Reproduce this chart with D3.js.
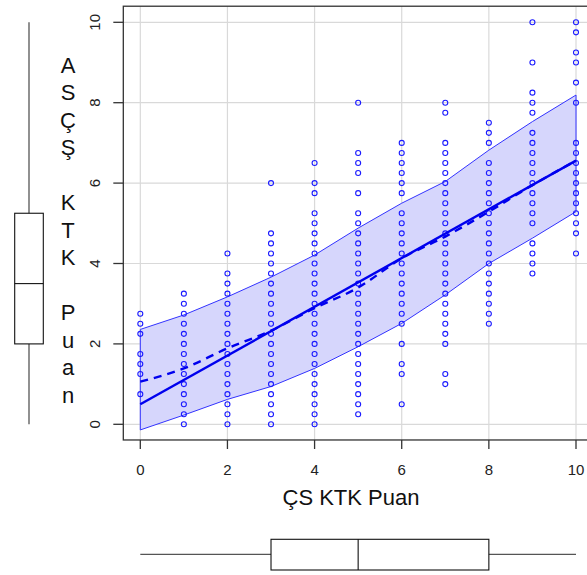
<!DOCTYPE html>
<html><head><meta charset="utf-8">
<script src="https://cdn.jsdelivr.net/npm/d3@7"></script>
<style>body{margin:0;background:#fff}svg{display:block}text{font-family:"Liberation Sans",Arial,sans-serif}</style>
</head><body>
<svg id="c" width="587" height="575"></svg>
<script>
const xTicks = [0, 2, 4, 6, 8, 10];
const yTicks = [0, 2, 4, 6, 8, 10];
const xTitle = "ÇS KTK Puan";
const yTitle = "ASÇŞ KTK Puan";
const colX = [0, 1, 2, 3, 4, 5, 6, 7, 8, 9, 10];
const colY = [
  [2.75, 2.5, 2.25, 1.75, 1.5, 1.25, 0.75],
  [3.25, 3, 2.75, 2.5, 2.25, 2, 1.75, 1.5, 1.25, 1, 0.75, 0.5, 0.25, 0],
  [4.25, 3.75, 3.5, 3.25, 3, 2.75, 2.5, 2.25, 2, 1.75, 1.5, 1.25, 1, 0.75, 0.5, 0.25, 0],
  [6, 4.75, 4.5, 4.25, 4, 3.75, 3.5, 3.25, 3, 2.75, 2.5, 2.25, 2, 1.75, 1.5, 1.25, 1, 0.75, 0.5, 0.25, 0],
  [6.5, 6, 5.75, 5.25, 5, 4.75, 4.5, 4.25, 4, 3.75, 3.5, 3.25, 3, 2.75, 2.5, 2.25, 2, 1.75, 1.5, 1.25, 1, 0.75, 0.5, 0.25, 0],
  [8, 6.75, 6.5, 6.25, 5.75, 5.25, 5, 4.75, 4.5, 4.25, 4, 3.75, 3.5, 3.25, 3, 2.75, 2.5, 2.25, 2, 1.75, 1.5, 1.25, 1, 0.75, 0.5, 0.25],
  [7, 6.75, 6.5, 6.25, 6, 5.75, 5.25, 5, 4.75, 4.5, 4.25, 4, 3.75, 3.5, 3.25, 3, 2.75, 2.5, 2, 1.5, 1.25, 0.5],
  [8, 7.75, 7, 6.75, 6.5, 6.25, 6, 5.75, 5.5, 5.25, 5, 4.75, 4.5, 4.25, 4, 3.75, 3.5, 3.25, 3, 2.75, 2.5, 2.25, 2, 1.25, 1],
  [7.5, 7.25, 7, 6.5, 6.25, 6, 5.75, 5.5, 5.25, 5, 4.75, 4.5, 4.25, 4, 3.75, 3.5, 3.25, 3, 2.75, 2.5],
  [10, 9, 8.25, 8, 7.75, 7.25, 7, 6.75, 6.5, 6.25, 6, 5.75, 5.5, 5.25, 5, 4.5, 4.25, 4, 3.75],
  [10, 9.75, 9.25, 9, 8.5, 8, 7, 6.75, 6.5, 6.25, 6, 5.75, 5.5, 5.25, 5, 4.75, 4.25]
];
const bandUpper = [2.36, 2.72, 3.17, 3.66, 4.21, 4.88, 5.5, 6.04, 6.82, 7.53, 8.19];
const bandLower = [-0.14, 0.23, 0.62, 0.94, 1.39, 1.93, 2.51, 3.22, 4.0, 4.63, 5.29];
const fitX = [0, 10];
const fitY = [0.5, 6.56];
const smoothY = [1.06, 1.39, 1.89, 2.33, 2.89, 3.4, 4.13, 4.67, 5.29, 5.95, 6.56];
const yBox = [0, 2, 3.5, 5.25, 10];   // min, q1, median, q3, max
const xBox = [0, 3, 5, 8, 10];

const svg = d3.select("#c");
const x = d3.scaleLinear().domain([0, 10]).range([140.3, 576]);
const y = d3.scaleLinear().domain([0, 10]).range([424.3, 22.3]);
const L = x(-0.39), R = x(10.39), T = y(10.4), B = y(-0.39);

// grid
svg.append("g").selectAll("line").data(xTicks).join("line")
  .attr("x1", d => x(d)).attr("x2", d => x(d)).attr("y1", T).attr("y2", B)
  .attr("stroke", "#d9d9d9").attr("stroke-width", 1.2);
svg.append("g").selectAll("line").data(yTicks).join("line")
  .attr("y1", d => y(d)).attr("y2", d => y(d)).attr("x1", L).attr("x2", R)
  .attr("stroke", "#d9d9d9").attr("stroke-width", 1.2);

// band
const bandPts = colX.map((c, i) => [x(c), y(bandUpper[i])])
  .concat(colX.map((c, i) => [x(c), y(bandLower[i])]).reverse());
svg.append("path").attr("d", "M" + bandPts.join("L") + "Z")
  .attr("fill", "#d6d6fc").attr("stroke", "#3333ff").attr("stroke-width", 1);

// points
const pts = [];
colX.forEach((c, i) => colY[i].forEach(v => pts.push([c, v])));
svg.append("g").selectAll("circle").data(pts).join("circle")
  .attr("cx", d => x(d[0])).attr("cy", d => y(d[1])).attr("r", 2.5)
  .attr("fill", "none").attr("stroke", "#1a1aff").attr("stroke-width", 1.1);

// fit line
svg.append("path").datum(fitX.map((c, i) => [c, fitY[i]]))
  .attr("d", d3.line().x(d => x(d[0])).y(d => y(d[1])))
  .attr("fill", "none").attr("stroke", "#0000ee").attr("stroke-width", 2.4);
// smooth dashed
svg.append("path").datum(colX.map((c, i) => [c, smoothY[i]]))
  .attr("d", d3.line().curve(d3.curveMonotoneX).x(d => x(d[0])).y(d => y(d[1])))
  .attr("fill", "none").attr("stroke", "#0000ee").attr("stroke-width", 2.4)
  .attr("stroke-dasharray", "8,6");

// frame
svg.append("rect").attr("x", L).attr("y", T).attr("width", R - L).attr("height", B - T)
  .attr("fill", "none").attr("stroke", "#333").attr("stroke-width", 1.3);

// x axis
const gx = svg.append("g");
gx.selectAll("line").data(xTicks).join("line")
  .attr("x1", d => x(d)).attr("x2", d => x(d)).attr("y1", B).attr("y2", B + 9)
  .attr("stroke", "#333").attr("stroke-width", 1.3);
gx.selectAll("text").data(xTicks).join("text")
  .attr("x", d => x(d)).attr("y", 475).attr("text-anchor", "middle")
  .attr("font-size", 15).attr("fill", "#222").text(d => d);
svg.append("text").attr("x", 351).attr("y", 505).attr("text-anchor", "middle")
  .attr("font-size", 22).attr("fill", "#111").text(xTitle);

// y axis
const gy = svg.append("g");
gy.selectAll("line").data(yTicks).join("line")
  .attr("y1", d => y(d)).attr("y2", d => y(d)).attr("x1", L - 10).attr("x2", L)
  .attr("stroke", "#333").attr("stroke-width", 1.3);
gy.selectAll("text").data(yTicks).join("text")
  .attr("transform", d => `translate(100,${y(d)}) rotate(-90)`)
  .attr("text-anchor", "middle").attr("font-size", 15).attr("fill", "#222").text(d => d);
const letters = Array.from(yTitle);
svg.append("g").selectAll("text").data(letters).join("text")
  .attr("x", 68).attr("y", (d, i) => 65 + i * 27.5).attr("dy", "0.36em")
  .attr("text-anchor", "middle").attr("font-size", 22).attr("fill", "#111").text(d => d);

// left boxplot (y)
const bl = svg.append("g");
bl.append("line").attr("x1", 29).attr("x2", 29).attr("y1", y(yBox[4])).attr("y2", y(yBox[3])).attr("stroke", "#555").attr("stroke-width", 1.3);
bl.append("line").attr("x1", 29).attr("x2", 29).attr("y1", y(yBox[1])).attr("y2", y(yBox[0])).attr("stroke", "#555").attr("stroke-width", 1.3);
bl.append("rect").attr("x", 14.7).attr("width", 28.6).attr("y", y(yBox[3])).attr("height", y(yBox[1]) - y(yBox[3]))
  .attr("fill", "none").attr("stroke", "#111").attr("stroke-width", 1.1);
bl.append("line").attr("x1", 14.7).attr("x2", 43.3).attr("y1", y(yBox[2])).attr("y2", y(yBox[2])).attr("stroke", "#111").attr("stroke-width", 1.1);

// bottom boxplot (x)
const bb = svg.append("g");
const bm = 554.3;
bb.append("line").attr("y1", bm).attr("y2", bm).attr("x1", x(xBox[0])).attr("x2", x(xBox[1])).attr("stroke", "#555").attr("stroke-width", 1.3);
bb.append("line").attr("y1", bm).attr("y2", bm).attr("x1", x(xBox[3])).attr("x2", x(xBox[4])).attr("stroke", "#555").attr("stroke-width", 1.3);
bb.append("rect").attr("y", 539.3).attr("height", 30.7).attr("x", x(xBox[1])).attr("width", x(xBox[3]) - x(xBox[1]))
  .attr("fill", "none").attr("stroke", "#111").attr("stroke-width", 1.1);
bb.append("line").attr("y1", 539.3).attr("y2", 570).attr("x1", x(xBox[2])).attr("x2", x(xBox[2])).attr("stroke", "#111").attr("stroke-width", 1.1);
</script>
</body></html>
